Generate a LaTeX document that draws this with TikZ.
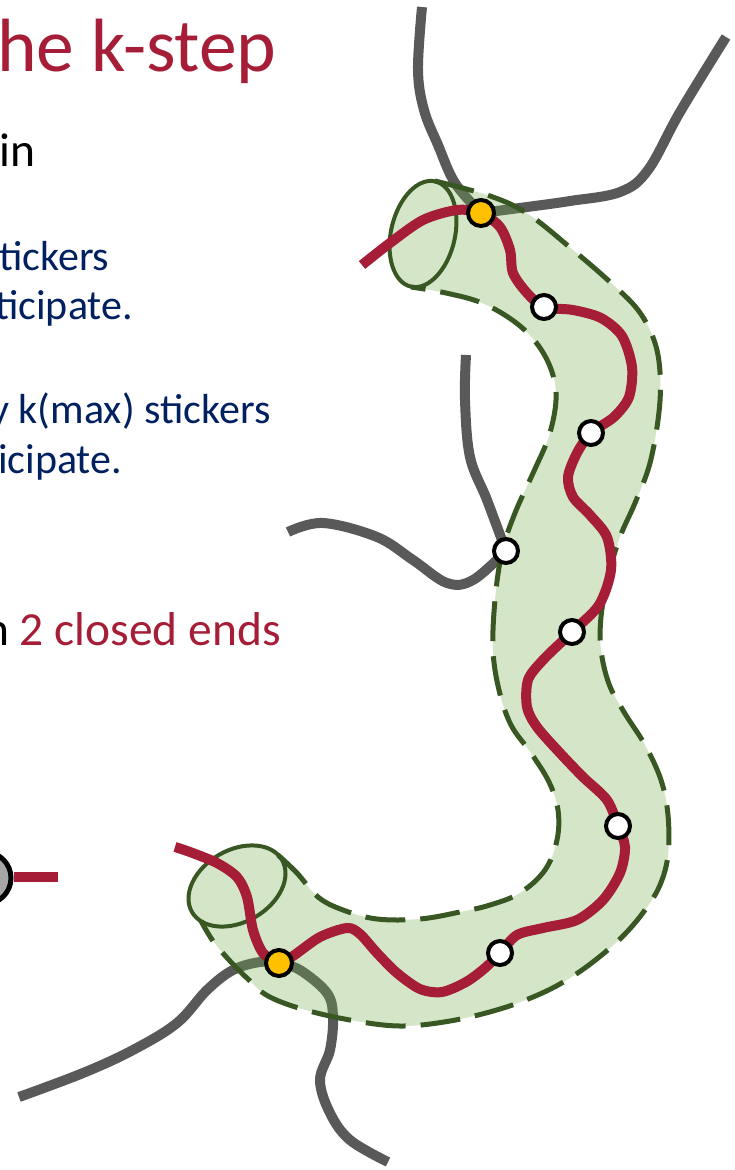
\documentclass[tikz,border=0pt]{standalone}
\usepackage{fontspec}
\setmainfont{Carlito}
\definecolor{accentred}{HTML}{A51D36}
\definecolor{navytext}{HTML}{002060}
\definecolor{strandgray}{HTML}{595959}
\definecolor{tubeedge}{HTML}{385723}
\definecolor{tubegreen}{HTML}{70AD47}
\definecolor{stickergold}{HTML}{FFC000}
\definecolor{beadgray}{HTML}{A6A6A6}
\begin{document}
\begin{tikzpicture}[x=1pt,y=-1pt,
  strand/.style={draw=strandgray,line width=10},
  chain/.style={draw=accentred,line width=10},
  tubeborder/.style={draw=tubeedge,line width=5,dash pattern=on 40 off 15},
  tubecap/.style={draw=tubeedge,line width=4},
  sticker/.style={circle,draw=black,line width=4,fill=white,minimum size=24,inner sep=0},
  endsticker/.style={sticker,fill=stickergold,minimum size=26},
  txt/.style={anchor=base west,inner sep=0}]
\useasboundingbox (0,0) rectangle (735,1170);

% outline pieces of the tube
\def\outerpts{(435,181) (490,196) (528,214) (573,250) (610,282) (638,310) (654,340) (660,372) (659,412) (650,463) (635,503) (620,537) (608,577) (601,617) (601,650) (609,684) (624,712) (645,745) (661,780) (668,815) (668,855) (660,885) (645,910) (624,935) (598,958) (570,978) (540,994) (500,1009) (450,1021) (400,1026) (350,1020) (302,1009) (268,996) (249,980) (230,961) (213,941) (201,921)}
\def\innerpts{(278,855) (297,873) (318,897) (343,910) (377,919) (420,919) (460,912) (490,905) (520,893) (545,870) (557,840) (558,810) (549,782) (531,753) (511,725) (499,690) (493,650) (495,600) (502,552) (515,513) (534,471) (549,436) (556,400) (552,372) (538,345) (515,322) (482,303) (446,293) (411,287)}
\edef\outerline{plot[smooth,tension=0.6] coordinates {\outerpts}}
\edef\innerline{plot[smooth,tension=0.6] coordinates {\innerpts}}
\edef\innerjoin{-- plot[smooth,tension=0.6] coordinates {\innerpts}}
\def\bottomjoin{-- plot[domain=200:10,samples=40,variable=\t] ({237+45*cos(\t)-18*sin(\t)},{886-26*cos(\t)-31.2*sin(\t)})}
\def\topjoin{-- plot[domain=270:90,samples=40,variable=\t] ({423+31.2*cos(\t)+12.2*sin(\t)},{234+7.2*cos(\t)-52.6*sin(\t)})}

% sticker positions
\coordinate (yt) at (481,213);
\coordinate (w1) at (544,307);
\coordinate (w2) at (591,433);
\coordinate (w3) at (506,551);
\coordinate (w4) at (572,632);
\coordinate (w5) at (618,826);
\coordinate (w6) at (500,953);
\coordinate (yb) at (279,963);

% gray strands of neighbouring chains
\draw[strand] plot[smooth,tension=0.6] coordinates {(422,7) (418,70) (424,110) (438,145) (455,183) (yt)};
\draw[strand] plot[smooth,tension=0.6] coordinates {(726,37) (680,112) (648,170) (620,192) (570,201) (527,207) (yt)};
\draw[strand] plot[smooth,tension=0.6] coordinates {(466,355) (465,400) (470,457) (487,500) (w3)};
\draw[strand] plot[smooth,tension=0.6] coordinates {(288,532) (323,523) (377,537) (413,560) (447,583) (473,580) (w3)};
\draw[strand] plot[smooth,tension=0.6] coordinates {(19,1097) (83,1073) (133,1050) (177,1023) (207,990) (233,970) (260,962) (yb)};
\draw[strand] plot[smooth,tension=0.6] coordinates {(yb) (300,970) (327,993) (333,1017) (330,1050) (320,1080) (330,1113) (350,1140) (388,1162)};

% translucent tube
\fill[tubegreen,fill opacity=0.3] \outerline \bottomjoin \innerjoin \topjoin -- cycle;
\draw[tubeborder] \outerline;
\draw[tubeborder] \innerline;
\draw[tubecap,rotate around={-13:(423,234)}] (423,234) ellipse[x radius=32,y radius=54];
\draw[tubecap,rotate around={30:(237,886)}] (237,886) ellipse[x radius=52,y radius=36];

% the chain threading the tube
\draw[chain] plot[smooth,tension=0.5] coordinates {(175,847) (190,852) (217,863) (237,877) (247,897) (253,930) (263,953) (yb) (293,956) (320,937) (347,928) (360,934) (377,953) (397,973) (420,989) (442,992) (466,982) (485,968) (w6) (517,935) (543,928) (577,920) (603,900) (620,873) (625,847) (w5) (607,800) (583,777) (560,753) (537,727) (527,707) (528,680) (543,660) (w4) (599,605) (611,570) (607,537) (590,515) (573,497) (568,477) (577,453) (w2) (614,417) (629,397) (632,367) (622,336) (601,318) (573,310) (w1) (527,293) (513,273) (510,250) (500,227) (yt) (457,210) (423,220) (390,243) (362,265)};

% stickers
\node[endsticker] (kyt) at (yt) {};
\node[endsticker] (kyb) at (yb) {};
\node[sticker] (k1) at (w1) {};
\node[sticker] (k2) at (w2) {};
\node[sticker] (k3) at (w3) {};
\node[sticker] (k4) at (w4) {};
\node[sticker] (k5) at (w5) {};
\node[sticker] (k6) at (w6) {};

% bead with a chain stub
\node[circle,draw=black,line width=5,fill=beadgray,minimum size=52,inner sep=0] (bead) at (-15,878) {};
\coordinate (stub) at (58,877);
\draw[chain] (bead.east |- stub) -- (stub);

% text
\node[txt,text=accentred,font=\fontsize{75.5}{80}\selectfont] (title) at (-3,71) {he k-step};
\node[txt,font=\fontsize{47.5}{52}\selectfont] (l1) at (-1,166) {in};
\node[txt,text=navytext,font=\fontsize{42}{46}\selectfont] (l2) at (-1,270) {tickers};
\node[txt,text=navytext,font=\fontsize{42}{46}\selectfont] (l3) at (-5,319) {ticipate.};
\node[txt,text=navytext,font=\fontsize{42}{46}\selectfont] (l4) at (-10,423) {y k(max) stickers};
\node[txt,text=navytext,font=\fontsize{42}{46}\selectfont] (l5) at (-2,473) {icipate.};
\node[txt,font=\fontsize{47.5}{52}\selectfont] (l6) at (-16,645) {n \textcolor{accentred}{2 closed ends}};
\end{tikzpicture}
\end{document}
